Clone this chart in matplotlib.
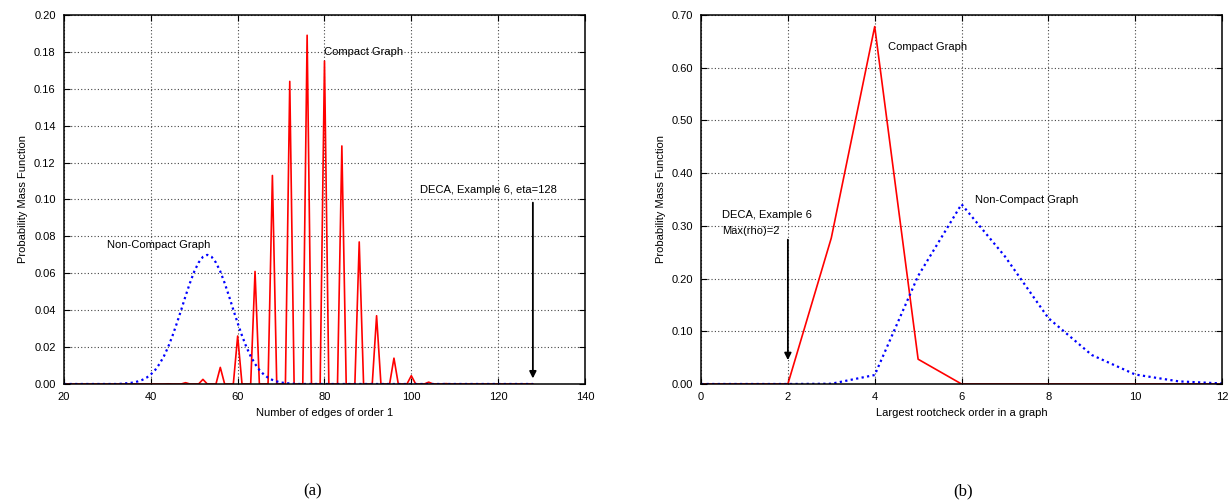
import matplotlib
matplotlib.use('Agg')
import matplotlib.pyplot as plt
import numpy as np

plt.rcParams['font.family'] = ['Liberation Sans', 'DejaVu Sans']
plt.rcParams['font.size'] = 8

# (a) number of edges of order 1
edges_x = list(range(20, 129))
compact_peaks_x = [44, 48, 52, 56, 60, 64, 68, 72, 76, 80, 84, 88, 92, 96, 100, 104, 108]
compact_peaks_y = [0.0001, 0.0007, 0.0025, 0.009, 0.026, 0.061, 0.113, 0.164, 0.189,
                   0.175, 0.129, 0.077, 0.037, 0.014, 0.0045, 0.001, 0.0002]
noncompact_x = list(range(33, 74))
noncompact_y = [0.0001, 0.0003, 0.0005, 0.0008, 0.0014, 0.0022, 0.0034, 0.0052, 0.0076,
                0.0109, 0.0150, 0.0201, 0.0262, 0.0330, 0.0402, 0.0477, 0.0547, 0.0610,
                0.0658, 0.0689, 0.0700, 0.0689, 0.0658, 0.0610, 0.0547, 0.0477, 0.0402,
                0.0330, 0.0262, 0.0201, 0.0150, 0.0109, 0.0076, 0.0052, 0.0034, 0.0022,
                0.0014, 0.0008, 0.0005, 0.0003, 0.0001]

# (b) largest rootcheck order
order_x = list(range(0, 13))
compact_order_y = [0, 0, 0, 0.277, 0.678, 0.047, 0, 0, 0, 0, 0, 0, 0]
noncompact_order_y = [0, 0, 0, 0.0005, 0.017, 0.205, 0.341, 0.242, 0.125, 0.055, 0.018, 0.005, 0.001]


def series(xs, px, py):
    lookup = dict(zip(px, py))
    return [lookup.get(x, 0.0) for x in xs]


def style(ax):
    ax.grid(True, color='#444444', linestyle=(0, (1, 2)), linewidth=0.8)
    ax.tick_params(direction='in', top=True, right=True, length=4, pad=6, labelsize=8)
    for s in ax.spines.values():
        s.set_linewidth(1.1)
    ax.yaxis.set_major_formatter(matplotlib.ticker.FormatStrFormatter('%.2f'))
    ax.set_ylabel('Probability Mass Function', fontsize=8)


fig = plt.figure(figsize=(12.31, 5.03), dpi=100)
ax1 = fig.add_axes([0.052, 0.2366, 0.4232, 0.7336])
ax2 = fig.add_axes([0.5695, 0.2366, 0.4232, 0.7336])

ax1.plot(edges_x, series(edges_x, compact_peaks_x, compact_peaks_y), color='red', lw=1.2)
ax1.plot(edges_x, series(edges_x, noncompact_x, noncompact_y), color='blue', lw=1.6,
         linestyle=(0, (1, 1.5)))
ax1.set_xlim(20, 140)
ax1.set_ylim(0, 0.20)
ax1.set_xticks(range(20, 141, 20))
ax1.set_yticks(np.arange(0, 0.201, 0.02))
style(ax1)
ax1.set_xlabel('Number of edges of order 1', fontsize=8)
ax1.text(80, 0.18, 'Compact Graph', va='center', ha='left')
ax1.text(30, 0.0755, 'Non-Compact Graph', va='center', ha='left')
ax1.text(102, 0.105, 'DECA, Example 6, eta=128', va='center', ha='left')
ax1.annotate('', xy=(128, 0.0015), xytext=(128, 0.0998),
             arrowprops=dict(arrowstyle='-|>', color='black', lw=1.3, mutation_scale=10))

ax2.plot(order_x, compact_order_y, color='red', lw=1.2)
ax2.plot(order_x, noncompact_order_y, color='blue', lw=1.6, linestyle=(0, (1, 1.5)))
ax2.set_xlim(0, 12)
ax2.set_ylim(0, 0.70)
ax2.set_xticks(range(0, 13, 2))
ax2.set_yticks(np.arange(0, 0.701, 0.10))
style(ax2)
ax2.set_xlabel('Largest rootcheck order in a graph', fontsize=8)
ax2.text(4.31, 0.64, 'Compact Graph', va='center', ha='left')
ax2.text(6.31, 0.349, 'Non-Compact Graph', va='center', ha='left')
ax2.text(0.49, 0.32, 'DECA, Example 6', va='center', ha='left')
ax2.text(0.49, 0.291, 'Max(rho)=2', va='center', ha='left')
ax2.annotate('', xy=(2, 0.04), xytext=(2, 0.279),
             arrowprops=dict(arrowstyle='-|>', color='black', lw=1.3, mutation_scale=10))

fig.text(313 / 1231, 1 - 491 / 503, '(a)', ha='center', va='center',
         family='Liberation Serif', fontsize=12)
fig.text(963 / 1231, 1 - 491 / 503, '(b)', ha='center', va='center',
         family='Liberation Serif', fontsize=12)

fig.savefig('out.png', dpi=100)
